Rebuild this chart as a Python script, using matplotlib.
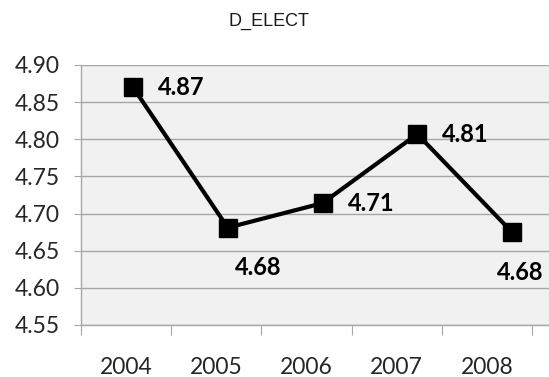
import matplotlib
matplotlib.use("Agg")
import matplotlib.pyplot as plt

title = "D_ELECT"
years = ["2004", "2005", "2006", "2007", "2008"]
values = [4.870, 4.681, 4.714, 4.807, 4.675]
labels = ["4.87", "4.68", "4.71", "4.81", "4.68"]
yticks = [4.55, 4.60, 4.65, 4.70, 4.75, 4.80, 4.85, 4.90]

# where each data label sits relative to its marker (points)
label_offsets = [(18, 0), (22, -29), (18, 0), (18, 0), (6, -29)]
label_align = [("left", "center"), ("center", "center"), ("left", "center"),
               ("left", "center"), ("center", "center")]

FONT = ["Lato", "DejaVu Sans"]
GRID = "#a6a6a6"

fig = plt.figure(figsize=(5.49, 3.77), dpi=100)
ax = fig.add_axes([0.1475, 0.138, 0.8525, 0.6896])
ax.set_facecolor("#f1f1f1")

# category axis: ticks sit between the categories
n = len(years)
ax.set_xlim(-0.5, n - 0.5 + 0.19)
ax.set_ylim(yticks[0], yticks[-1])
ax.set_yticks(yticks)
ax.set_yticklabels([f"{v:.2f}" for v in yticks], fontsize=16.5, family=FONT, color="#262626")
ax.set_xticks([i + 0.5 for i in range(-1, n)])
ax.set_xticklabels([])
ax.set_xticks(range(n), minor=True)
ax.set_xticklabels(years, minor=True, fontsize=16.5, family=FONT, color="#262626")
ax.tick_params(axis="x", which="minor", length=0, pad=23)
ax.tick_params(axis="x", which="major", length=7, color=GRID, direction="out")
ax.tick_params(axis="y", length=5, color=GRID, pad=10)
ax.grid(axis="y", color=GRID, linewidth=1)
ax.set_axisbelow(True)
for side in ("top", "right"):
    ax.spines[side].set_visible(False)
for side in ("left", "bottom"):
    ax.spines[side].set_color(GRID)
    ax.spines[side].set_linewidth(1)

# the series is drawn on its own x scale, slightly wider than the category slots
ax2 = ax.twiny()
ax2.set_xlim(-0.549, 4.39)
ax2.set_ylim(yticks[0], yticks[-1])
ax2.axis("off")
ax2.plot(range(n), values, color="black", linewidth=3, marker="s",
         markersize=13.5, markerfacecolor="black", markeredgecolor="black")
for i, (v, lab) in enumerate(zip(values, labels)):
    ha, va = label_align[i]
    ax2.annotate(lab, (i, v), xytext=label_offsets[i], textcoords="offset points",
                 ha=ha, va=va, fontsize=17, fontweight="bold", family=FONT, color="black")

fig.text(0.49, 0.944, title, ha="center", va="center", fontsize=13,
         family=["Liberation Sans", "DejaVu Sans"], color="#1a1a1a")

fig.savefig("out.png", dpi=100)
